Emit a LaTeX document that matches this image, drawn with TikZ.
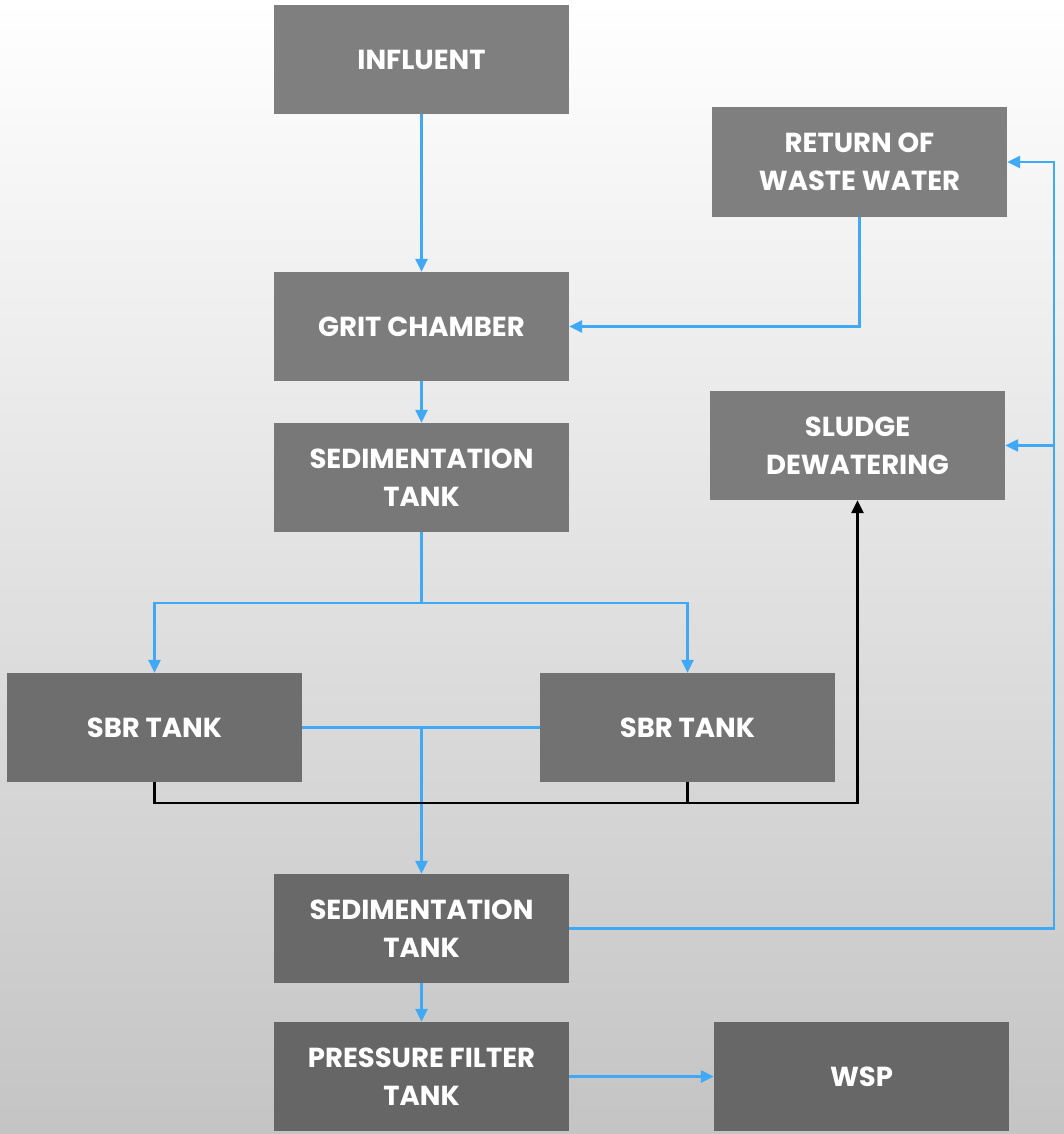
\documentclass[tikz,border=0pt]{standalone}
\usepackage{fontspec}
\setmainfont{Poppins}
\usetikzlibrary{arrows.meta}
\definecolor{flowblue}{HTML}{3FA9F5}
\begin{document}
\begin{tikzpicture}[x=1pt,y=-1pt,
  stage/.style={rectangle, inner sep=0pt, minimum width=295pt, minimum height=109pt,
    text=white, align=center, font=\fontsize{27.5}{38}\selectfont\bfseries},
  flow/.style={draw=flowblue, line width=2.6pt},
  solids/.style={draw=black, line width=2.6pt},
  tip/.style={-{Triangle[length=13pt,width=12pt]}}
]
% backdrop
\shade[top color=white, bottom color={rgb,255:red,196;green,196;blue,196}] (0,0) rectangle (1064,1134);
\useasboundingbox (0,0) rectangle (1064,1134);

% process stages
\node[stage, fill={rgb,255:red,127;green,127;blue,127}] (inf)    at (421.5,59.5)  {INFLUENT};
\node[stage, fill={rgb,255:red,127;green,127;blue,127}] (ret)    at (859.5,162)   {RETURN OF\\WASTE WATER};
\node[stage, fill={rgb,255:red,124;green,124;blue,124}] (grit)   at (421.5,326.5) {GRIT CHAMBER};
\node[stage, fill={rgb,255:red,120;green,120;blue,120}] (sedA)   at (421.5,477.5) {SEDIMENTATION\\TANK};
\node[stage, fill={rgb,255:red,124;green,124;blue,124}] (sludge) at (857.5,445.5) {SLUDGE\\DEWATERING};
\node[stage, fill={rgb,255:red,110;green,110;blue,110}] (sbrL)   at (154.5,727.5) {SBR TANK};
\node[stage, fill={rgb,255:red,114;green,114;blue,114}] (sbrR)   at (687.5,727.5) {SBR TANK};
\node[stage, fill={rgb,255:red,105;green,105;blue,105}] (sedB)   at (421.5,928.5) {SEDIMENTATION\\TANK};
\node[stage, fill={rgb,255:red,102;green,102;blue,102}] (pft)    at (421.5,1076.5){PRESSURE FILTER\\TANK};
\node[stage, fill={rgb,255:red,103;green,103;blue,103}] (wsp)    at (861.5,1076.5){WSP};

% junction points
\coordinate (split)   at (421.5,603);
\coordinate (collect) at (857.5,803);
\coordinate (riser)   at (1054,0);

% main line
\draw[flow,tip] (inf.south) -- (grit.north);
\draw[flow,tip] (ret.south) |- (grit.east);
\draw[flow,tip] (grit.south) -- (sedA.north);
\draw[flow] (sedA.south) -- (split);
\draw[flow,tip] (split) -| (sbrL.north);
\draw[flow,tip] (split) -| (sbrR.north);
\draw[flow] (sbrL.east) -- (sbrR.west);
\draw[flow,tip] (sbrL.east -| sedB.north) -- (sedB.north);
\draw[flow,tip] (sedB.south) -- (pft.north);
\draw[flow,tip] (pft.east) -- (wsp.west);

% recycle line
\draw[flow,tip] (sedB.east) -| (riser |- ret.east) -- (ret.east);
\draw[flow,tip] (riser |- sludge.east) -- (sludge.east);

% sludge withdrawal
\draw[solids,tip] (sbrL.south) |- (collect) -- (sludge.south);
\draw[solids] (sbrR.south) -- (sbrR.south |- collect);
\end{tikzpicture}
\end{document}
